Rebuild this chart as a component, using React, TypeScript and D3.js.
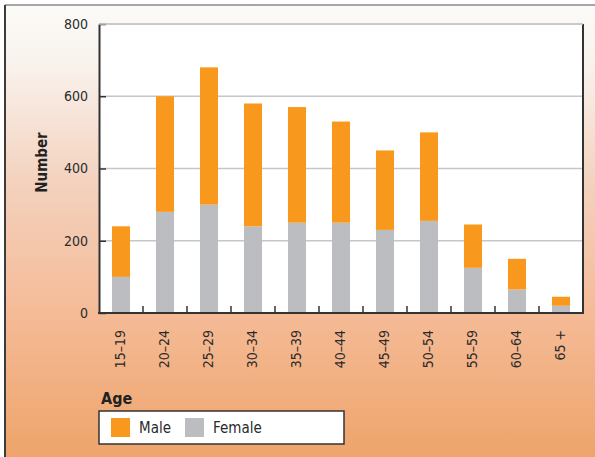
import * as d3 from 'd3';
import { useEffect, useRef } from "react";
import * as React from "react";

const ageGroups = ["15–19", "20–24", "25–29", "30–34", "35–39", "40–44", "45–49", "50–54", "55–59", "60–64", "65 +"];
const female = [100, 280, 300, 240, 250, 250, 230, 255, 125, 65, 20];
const male = [140, 320, 380, 340, 320, 280, 220, 245, 120, 85, 25];
const yTicks = [0, 200, 400, 600, 800];
const seriesNames = ["Male", "Female"];
const seriesColors = ["#f8991d", "#bcbdc0"];

const W = 595;
const H = 457;
const FONT = "'Liberation Sans Narrow', 'DejaVu Sans Condensed', 'Liberation Sans', sans-serif";

const App: React.FC = () => {
    const svgRef = useRef<SVGSVGElement | null>(null);

    useEffect(() => {
        if (!svgRef.current) return;
        const svg = d3.select(svgRef.current);
        svg.selectAll("*").remove();

        const margin = { top: 24, right: 12, bottom: 144, left: 99 };
        const plotRight = W - margin.right;
        const plotBottom = H - margin.bottom;

        // background gradient
        const defs = svg.append("defs");
        const grad = defs.append("linearGradient")
            .attr("id", "bg")
            .attr("x1", 0).attr("y1", 0).attr("x2", 0).attr("y2", 1);
        [[0, "#fcfbf8"], [0.12, "#f9f3ee"], [0.4, "#f3d1bd"], [0.68, "#f5bb97"], [1, "#eea46b"]]
            .forEach(([o, c]) => grad.append("stop").attr("offset", o as number).attr("stop-color", c as string));

        svg.append("rect").attr("x", 0).attr("y", 0).attr("width", W).attr("height", H).attr("fill", "white");
        svg.append("rect").attr("x", 5).attr("y", 5).attr("width", W - 5).attr("height", H - 5).attr("fill", "url(#bg)");
        svg.append("line").attr("x1", 5).attr("x2", W).attr("y1", 5).attr("y2", 5)
            .attr("stroke", "#8a8a8a").attr("stroke-width", 1.5);
        svg.append("line").attr("x1", 5).attr("x2", 5).attr("y1", 5).attr("y2", H)
            .attr("stroke", "#3c3c3c").attr("stroke-width", 2);

        const x = d3.scaleBand<string>()
            .domain(ageGroups)
            .range([margin.left, plotRight])
            .paddingInner(0.59)
            .paddingOuter(0.295);

        const y = d3.scaleLinear()
            .domain([0, 800])
            .range([plotBottom, margin.top]);

        // plot area
        svg.append("rect")
            .attr("x", margin.left).attr("y", margin.top)
            .attr("width", plotRight - margin.left).attr("height", plotBottom - margin.top)
            .attr("fill", "white");

        // gridlines
        svg.append("g")
            .selectAll("line")
            .data(yTicks.filter(t => t > 0))
            .enter().append("line")
            .attr("x1", margin.left).attr("x2", plotRight)
            .attr("y1", d => y(d)).attr("y2", d => y(d))
            .attr("stroke", "#c6c6c6").attr("stroke-width", 1.5);

        // stacked bars
        const rows = ageGroups.map((g, i) => ({ group: g, Female: female[i], Male: male[i] }));
        const stack = d3.stack<any>().keys(["Female", "Male"]);
        const layers = stack(rows);
        const colorOf: Record<string, string> = { Male: seriesColors[0], Female: seriesColors[1] };

        svg.append("g")
            .selectAll("g")
            .data(layers)
            .enter().append("g")
            .attr("fill", d => colorOf[d.key])
            .selectAll("rect")
            .data(d => d)
            .enter().append("rect")
            .attr("x", d => x(d.data.group) as number)
            .attr("width", x.bandwidth())
            .attr("y", d => y(d[1]))
            .attr("height", d => y(d[0]) - y(d[1]));

        // y axis
        const yAxis = svg.append("g")
            .attr("transform", `translate(${margin.left},0)`)
            .call(d3.axisLeft(y).tickValues(yTicks).tickSize(-7).tickPadding(11).tickSizeOuter(0));
        yAxis.select(".domain").attr("stroke", "#333").attr("stroke-width", 2);
        yAxis.selectAll(".tick line").attr("stroke", "#333").attr("stroke-width", 1.5);
        yAxis.selectAll("text")
            .attr("font-family", FONT).attr("font-size", 14).attr("fill", "#2a2a2a");

        // x axis with ticks between bands
        const step = x.step();
        const boundaries = d3.range(1, ageGroups.length).map(i => margin.left + i * step);
        svg.append("g")
            .selectAll("line")
            .data(boundaries)
            .enter().append("line")
            .attr("x1", d => d).attr("x2", d => d)
            .attr("y1", plotBottom).attr("y2", plotBottom - 7)
            .attr("stroke", "#333").attr("stroke-width", 1.5);

        svg.append("line")
            .attr("x1", margin.left - 1).attr("x2", plotRight + 1)
            .attr("y1", plotBottom).attr("y2", plotBottom)
            .attr("stroke", "#333").attr("stroke-width", 2);
        svg.append("line")
            .attr("x1", plotRight).attr("x2", plotRight)
            .attr("y1", margin.top).attr("y2", plotBottom)
            .attr("stroke", "#333").attr("stroke-width", 2);
        svg.append("line")
            .attr("x1", margin.left).attr("x2", plotRight)
            .attr("y1", margin.top).attr("y2", margin.top)
            .attr("stroke", "#c6c6c6").attr("stroke-width", 1.5);

        svg.append("g")
            .selectAll("text")
            .data(ageGroups)
            .enter().append("text")
            .attr("transform", d => `translate(${(x(d) as number) + x.bandwidth() / 2 + 4},${plotBottom + 17}) rotate(-90)`)
            .attr("text-anchor", "end")
            .attr("font-family", FONT).attr("font-size", 14).attr("fill", "#2a2a2a")
            .text(d => d);

        // y title
        svg.append("text")
            .attr("transform", `translate(47,${(margin.top + plotBottom) / 2 - 6}) rotate(-90)`)
            .attr("text-anchor", "middle")
            .attr("font-family", FONT).attr("font-size", 15).attr("font-weight", "bold").attr("fill", "#222")
            .text("Number");

        // legend
        svg.append("text")
            .attr("x", 101).attr("y", 404)
            .attr("font-family", FONT).attr("font-size", 16).attr("font-weight", "bold").attr("fill", "#222")
            .text("Age");

        svg.append("rect")
            .attr("x", 99).attr("y", 411).attr("width", 245).attr("height", 33)
            .attr("fill", "white").attr("stroke", "#333").attr("stroke-width", 1.5);

        const legendX = [111, 185];
        const lg = svg.append("g")
            .selectAll("g")
            .data(seriesNames)
            .enter().append("g")
            .attr("transform", (_, i) => `translate(${legendX[i]},418)`);
        lg.append("rect").attr("width", 19).attr("height", 19).attr("fill", (_, i) => seriesColors[i]);
        lg.append("text")
            .attr("x", 28).attr("y", 15)
            .attr("font-family", FONT).attr("font-size", 15).attr("fill", "#2a2a2a")
            .text(d => d);
    }, []);

    return (
        <div style={{ position: "absolute", left: 0, top: 0 }}>
            <svg ref={svgRef} width={W} height={H} style={{ display: "block" }}></svg>
        </div>
    );
};

export default App;
